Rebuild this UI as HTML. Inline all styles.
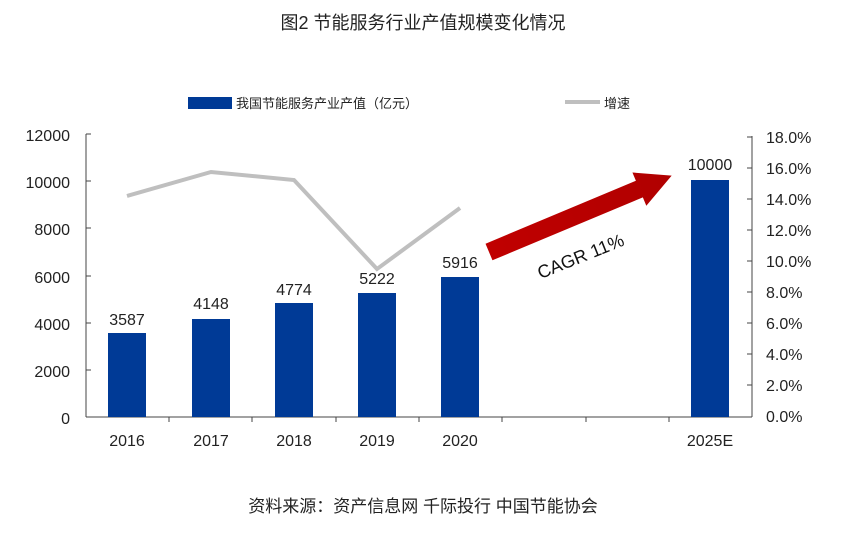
<!DOCTYPE html>
<html><head><meta charset="utf-8"><style>
body{margin:0;background:#fff;}
svg text{font-family:"Liberation Sans","Noto Sans CJK SC",sans-serif;}
</style></head><body>
<svg width="847" height="530" viewBox="0 0 847 530" xmlns="http://www.w3.org/2000/svg">
<defs><linearGradient id="ag" x1="0" y1="0" x2="1" y2="0"><stop offset="0" stop-color="#c00000"/><stop offset="1" stop-color="#b00000"/></linearGradient></defs>
<text x="423" y="29" font-size="18" text-anchor="middle" fill="#222">图2 节能服务行业产值规模变化情况</text>
<!-- legend -->
<rect x="188" y="97" width="44" height="12" fill="#003a96"/>
<text x="236" y="108" font-size="13" fill="#222" font-family="Noto Serif CJK SC,serif">我国节能服务产业产值（亿元）</text>
<line x1="565" y1="102" x2="600" y2="102" stroke="#bfbfbf" stroke-width="4"/>
<text x="604" y="108" font-size="13" fill="#222" font-family="Noto Serif CJK SC,serif">增速</text>
<!-- axes -->
<g stroke="#444" stroke-width="1">
<line x1="86" y1="134" x2="86" y2="417"/>
<line x1="86" y1="417" x2="752" y2="417"/>
<line x1="752" y1="136" x2="752" y2="417"/>
<line x1="86" y1="134" x2="91" y2="134"/><line x1="86" y1="181" x2="91" y2="181"/><line x1="86" y1="228" x2="91" y2="228"/><line x1="86" y1="276" x2="91" y2="276"/><line x1="86" y1="323" x2="91" y2="323"/><line x1="86" y1="370" x2="91" y2="370"/>
<line x1="747" y1="137" x2="752" y2="137"/><line x1="747" y1="168" x2="752" y2="168"/><line x1="747" y1="199" x2="752" y2="199"/><line x1="747" y1="230" x2="752" y2="230"/><line x1="747" y1="261" x2="752" y2="261"/><line x1="747" y1="292" x2="752" y2="292"/><line x1="747" y1="323" x2="752" y2="323"/><line x1="747" y1="354" x2="752" y2="354"/><line x1="747" y1="385" x2="752" y2="385"/>
<line x1="169" y1="417" x2="169" y2="422"/><line x1="252" y1="417" x2="252" y2="422"/><line x1="336" y1="417" x2="336" y2="422"/><line x1="419" y1="417" x2="419" y2="422"/><line x1="502" y1="417" x2="502" y2="422"/><line x1="586" y1="417" x2="586" y2="422"/><line x1="669" y1="417" x2="669" y2="422"/>
</g>
<g font-size="16" fill="#222" text-anchor="end">
<text x="70" y="141">12000</text><text x="70" y="188">10000</text><text x="70" y="235">8000</text><text x="70" y="283">6000</text><text x="70" y="330">4000</text><text x="70" y="377">2000</text><text x="70" y="424">0</text>
</g>
<g font-size="16" fill="#222">
<text x="766" y="143">18.0%</text><text x="766" y="174">16.0%</text><text x="766" y="205">14.0%</text><text x="766" y="236">12.0%</text><text x="766" y="267">10.0%</text><text x="766" y="298">8.0%</text><text x="766" y="329">6.0%</text><text x="766" y="360">4.0%</text><text x="766" y="391">2.0%</text><text x="766" y="422">0.0%</text>
</g>
<!-- bars -->
<g fill="#003a96">
<rect x="108" y="333" width="38" height="84"/>
<rect x="192" y="319" width="38" height="98"/>
<rect x="275" y="303" width="38" height="114"/>
<rect x="358" y="293" width="38" height="124"/>
<rect x="441" y="277" width="38" height="140"/>
<rect x="691" y="180" width="38" height="237"/>
</g>
<g font-size="16" fill="#222" text-anchor="middle">
<text x="127" y="325">3587</text><text x="211" y="309">4148</text><text x="294" y="295">4774</text><text x="377" y="284">5222</text><text x="460" y="268">5916</text><text x="710" y="170">10000</text>
<text x="127" y="446">2016</text><text x="211" y="446">2017</text><text x="294" y="446">2018</text><text x="377" y="446">2019</text><text x="460" y="446">2020</text><text x="710" y="446">2025E</text>
</g>
<polyline points="127,196 211,172 294,180 377,269 460,208" fill="none" stroke="#bfbfbf" stroke-width="4"/>
<!-- arrow -->
<g transform="translate(489,252) rotate(-22.7)">
<polygon points="0,-9 163,-9 163,-18 198,0 163,18 163,9 0,9" fill="url(#ag)"/>
</g>
<text x="583" y="262" font-size="18" fill="#111" text-anchor="middle" transform="rotate(-22 583 262)">CAGR 11%</text>
<text x="423" y="512" font-size="17" text-anchor="middle" fill="#222">资料来源：资产信息网 千际投行 中国节能协会</text>
</svg>
</body></html>
